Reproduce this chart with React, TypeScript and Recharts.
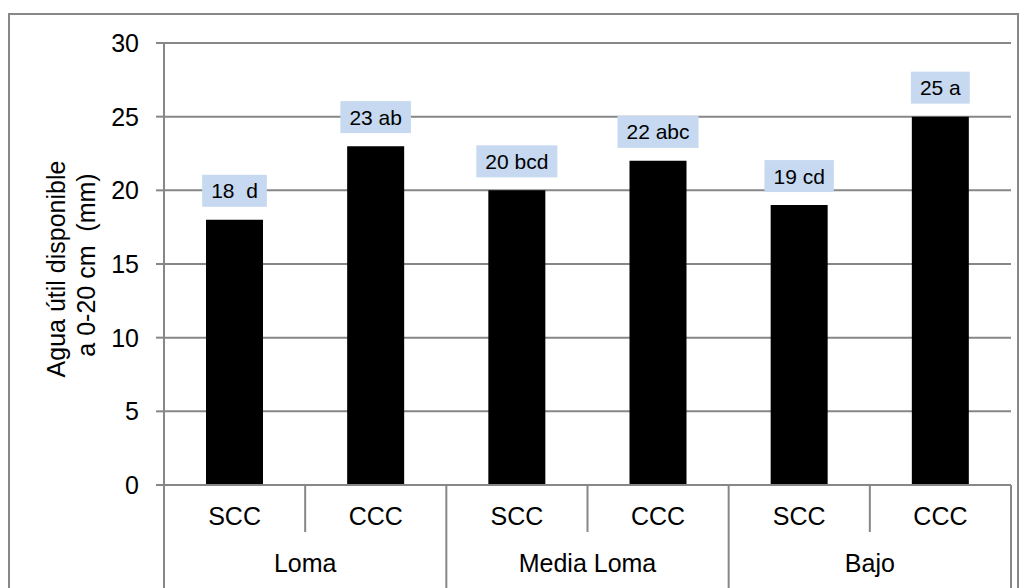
import React from "react";
import { BarChart, Bar, XAxis, YAxis, CartesianGrid, LabelList, Label } from "recharts";

const groups = ["Loma", "Media Loma", "Bajo"];
const subCategories = ["SCC", "CCC", "SCC", "CCC", "SCC", "CCC"];
const values = [18, 23, 20, 22, 19, 25];
const valueLabels = ["18  d", "23 ab", "20 bcd", "22 abc", "19 cd", "25 a"];
const yTicks = [0, 5, 10, 15, 20, 25, 30];

const data = values.map((v, i) => ({
  key: String(i),
  group: groups[Math.floor(i / 2)],
  sub: subCategories[i],
  value: v,
  label: valueLabels[i],
}));

const GRAY = "#878787";
const FONT = "'Liberation Sans', Arial, sans-serif";
const AXIS_FS = 25;
const LABEL_FS = 21;

const charW: Record<string, number> = { " ": 0.278, a: 0.556, b: 0.556, c: 0.5, d: 0.556 };
const textWidth = (s: string, fs: number) =>
  s.split("").reduce((acc, ch) => acc + (charW[ch] ?? 0.556), 0) * fs;

const XTick = (props: any) => {
  const { x, y, payload, index } = props;
  const i = typeof index === "number" ? index : Number(payload?.value);
  const half = typeof payload?.offset === "number" && payload.offset > 0 ? payload.offset : 70.6;
  const row = data[i];
  const axisY = y;
  return (
    <g>
      <text x={x} y={axisY + 40} textAnchor="middle" fontSize={AXIS_FS} fontFamily={FONT} fill="#000">
        {row.sub}
      </text>
      {i === 0 && <line x1={x - half} x2={x - half} y1={axisY} y2={axisY + 103} stroke={GRAY} strokeWidth={2} />}
      <line
        x1={x + half}
        x2={x + half}
        y1={axisY}
        y2={i % 2 === 1 ? axisY + 103 : axisY + 47}
        stroke={GRAY}
        strokeWidth={2}
      />
      {i % 2 === 0 && (
        <text x={x + half} y={axisY + 87} textAnchor="middle" fontSize={AXIS_FS} fontFamily={FONT} fill="#000">
          {row.group}
        </text>
      )}
    </g>
  );
};

const ValueLabel = (props: any) => {
  const { x, y, width, value } = props;
  const cx = Number(x) + Number(width) / 2;
  const s = String(value);
  const w = textWidth(s, LABEL_FS) + 18;
  const h = 32;
  const bottom = Number(y) - 13;
  return (
    <g>
      <rect x={cx - w / 2} y={bottom - h} width={w} height={h} fill="#c6d9f1" />
      <text
        x={cx}
        y={bottom - h / 2 + LABEL_FS * 0.36}
        textAnchor="middle"
        fontSize={LABEL_FS}
        fontFamily={FONT}
        fill="#000"
        style={{ whiteSpace: "pre" }}
      >
        {s}
      </text>
    </g>
  );
};

const YTitle = () => (
  <g>
    <text
      x={65}
      y={269}
      transform="rotate(-90, 65, 269)"
      textAnchor="middle"
      fontSize={AXIS_FS}
      fontFamily={FONT}
      fill="#000"
    >
      Agua útil disponible
    </text>
    <text
      x={95}
      y={265}
      transform="rotate(-90, 95, 265)"
      textAnchor="middle"
      fontSize={AXIS_FS}
      fontFamily={FONT}
      fill="#000"
      style={{ whiteSpace: "pre" }}
    >
      a 0-20 cm  (mm)
    </text>
  </g>
);

export default function App() {
  return (
    <div style={{ position: "absolute", left: 0, top: 0, width: 1027, height: 588, background: "#fff", overflow: "hidden" }}>
      <div
        style={{
          position: "absolute",
          left: 8,
          top: 13,
          width: 1011,
          height: 620,
          border: `2px solid ${GRAY}`,
          boxSizing: "border-box",
        }}
      />
      <div style={{ position: "absolute", left: 0, top: 0 }}>
        <BarChart width={1027} height={588} data={data} margin={{ top: 43, right: 16, bottom: 0, left: 0 }}>
          <CartesianGrid horizontal={true} vertical={false} stroke={GRAY} strokeWidth={2} />
          <XAxis
            dataKey="key"
            height={103}
            interval={0}
            tickLine={false}
            tickSize={0}
            tickMargin={0}
            axisLine={{ stroke: GRAY, strokeWidth: 2 }}
            tick={<XTick />}
          />
          <YAxis
            width={164}
            domain={[0, 30]}
            ticks={yTicks}
            interval={0}
            tickSize={8}
            tickMargin={17}
            tickLine={{ stroke: GRAY, strokeWidth: 2 }}
            axisLine={{ stroke: GRAY, strokeWidth: 2 }}
            tick={{ fontSize: AXIS_FS, fontFamily: FONT, fill: "#000" }}
          >
            <Label content={<YTitle />} />
          </YAxis>
          <Bar dataKey="value" fill="#000" barSize={57} isAnimationActive={false}>
            <LabelList dataKey="label" content={<ValueLabel />} />
          </Bar>
        </BarChart>
      </div>
    </div>
  );
}
